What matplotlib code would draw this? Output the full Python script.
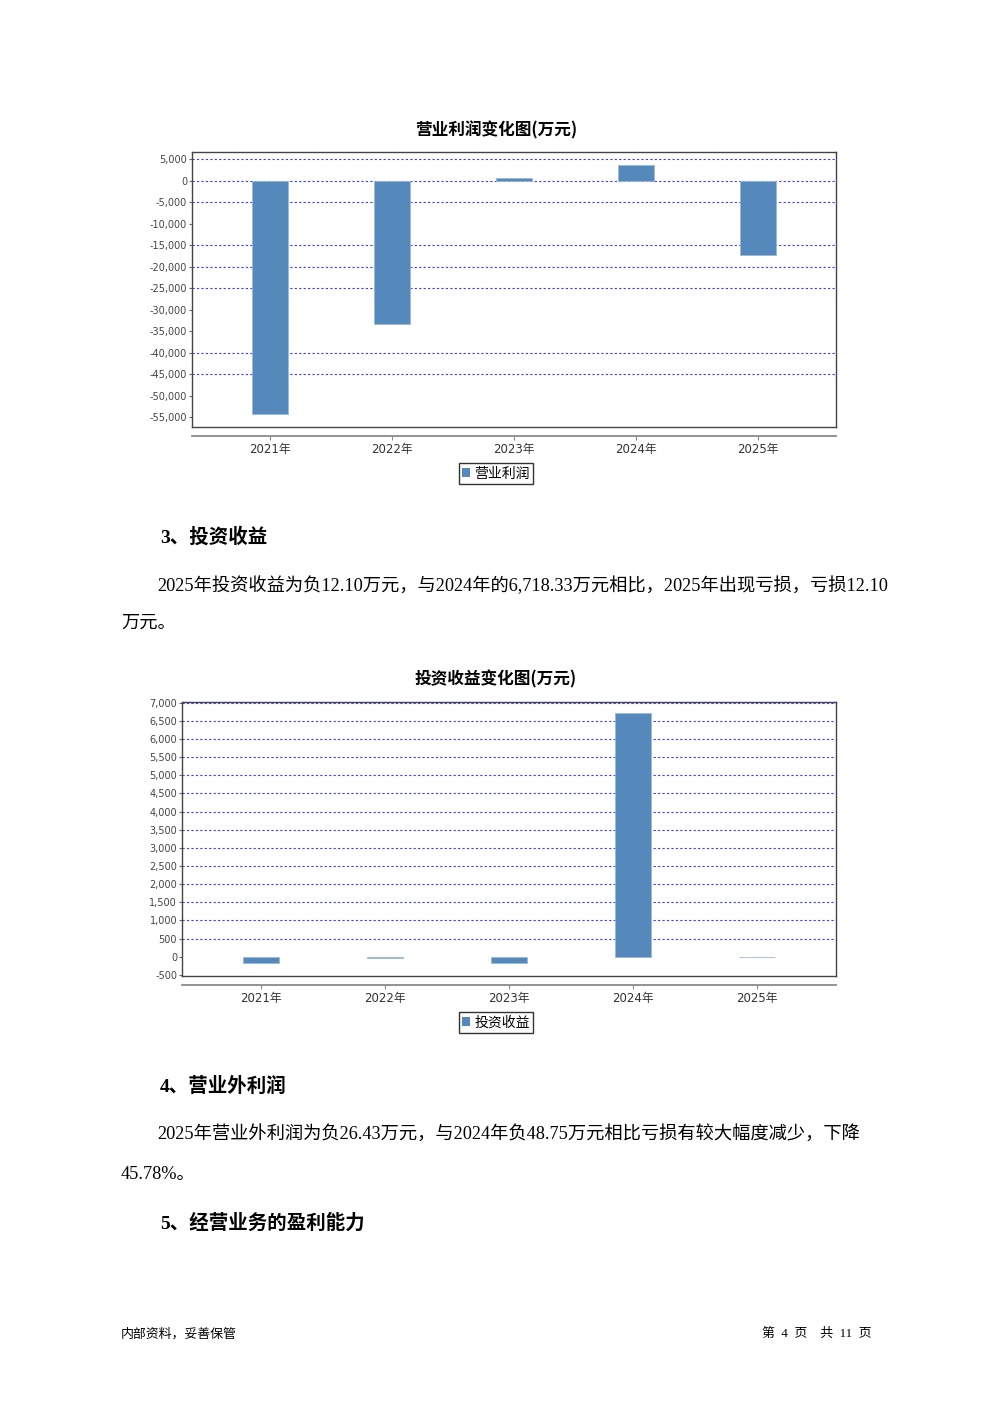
import matplotlib
matplotlib.use('Agg')
import matplotlib.pyplot as plt
from matplotlib.patches import Patch
from matplotlib.ticker import FuncFormatter

plt.rcParams['font.family'] = ['DejaVu Sans', 'Noto Sans CJK SC']

# data
years = ['2021年', '2022年', '2023年', '2024年', '2025年']
op_profit = [-54260, -33260, 630, 3720, -17370]
op_ticks = [5000, 0, -5000, -10000, -15000, -20000, -25000, -30000,
            -35000, -40000, -45000, -50000, -55000]
op_grid = [5000, 0, -5000, -15000, -20000, -25000, -40000, -45000]
inv_income = [-170, -30, -175, 6718.33, -12.10]
inv_ticks = list(range(-500, 7001, 500))
inv_grid = list(range(500, 7001, 500))

W, H = 992, 1403
BAR = '#5689bb'
GRID = '#3c3cff'
fig = plt.figure(figsize=(W / 100, H / 100), dpi=100)


def px(x, y):
    return x / W, 1 - y / H


def bar_chart(rect, values, ticks, grid, ylim, title, title_y, label, leg_y):
    l, t, r, b = rect
    ax = fig.add_axes([l / W, 1 - b / H, (r - l) / W, (b - t) / H])
    xs = list(range(len(years)))
    for g in grid:
        ax.axhline(g, color=GRID, lw=0.8, ls=(0, (2, 2)), zorder=1)
    ax.bar(xs, values, width=0.29, color=BAR, edgecolor='#9db9d8',
           linewidth=0.6, zorder=2)
    ax.set_xlim(-0.64, 4.64)
    ax.set_ylim(*ylim)
    ax.set_xticks(xs)
    ax.set_xticklabels(years)
    ax.set_yticks(ticks)
    ax.yaxis.set_major_formatter(FuncFormatter(lambda v, p: f'{v:,.0f}'))
    for s in ['top', 'left', 'right']:
        ax.spines[s].set_color('#444444')
        ax.spines[s].set_linewidth(1.0)
    ax.spines['bottom'].set_position(('outward', 6.5))
    ax.spines['bottom'].set_color('#8a8a8a')
    ax.spines['bottom'].set_linewidth(1.3)
    ax.plot([0, 1], [0, 0], transform=ax.transAxes, color='#444444',
            lw=1.0, clip_on=False, zorder=5)
    ax.tick_params(axis='x', length=3, color='#8a8a8a', labelsize=8.5,
                   labelcolor='#333333', pad=2)
    ax.tick_params(axis='y', length=2, color='#666666', labelsize=7,
                   labelcolor='#444444', pad=1.5)
    fig.text(*px(496, title_y), title, ha='center', va='center',
             fontsize=12, fontweight='bold', family='Noto Sans CJK SC')
    leg = ax.legend([Patch(facecolor=BAR)], [label], loc='center',
                    bbox_to_anchor=px(496, leg_y), bbox_transform=fig.transFigure,
                    fancybox=False, edgecolor='black',
                    handlelength=0.6, handleheight=0.6, handletextpad=0.3,
                    borderpad=0.25, borderaxespad=0,
                    prop={'family': 'Noto Sans CJK SC', 'size': 10})
    leg.get_frame().set_linewidth(1.0)
    return ax


bar_chart((192, 152, 836, 427), op_profit, op_ticks, op_grid, (-57300, 6630),
          '营业利润变化图(万元)', 130, '营业利润', 473.5)
bar_chart((182, 701.7, 836, 975.7), inv_income, inv_ticks, inv_grid, (-524, 7028),
          '投资收益变化图(万元)', 679, '投资收益', 1022.5)

body = ['Liberation Serif', 'Noto Sans CJK SC']


def txt(x, y, s, size=13.15, weight='normal', ha='left'):
    fig.text(*px(x, y), s, ha=ha, va='center', fontsize=size,
             fontweight=weight, family=body)


txt(160, 537, '3、投资收益', 14, 'bold')
txt(157, 586, '2025年投资收益为负12.10万元，与2024年的6,718.33万元相比，2025年出现亏损，亏损12.10')
txt(121, 623, '万元。')
txt(160, 1086, '4、营业外利润', 14, 'bold')
txt(157, 1135, '2025年营业外利润为负26.43万元，与2024年负48.75万元相比亏损有较大幅度减少，下降')
txt(121, 1174, '45.78%。')
txt(160, 1223, '5、经营业务的盈利能力', 14, 'bold')
txt(121, 1334, '内部资料，妥善保管', 9.3)
txt(871, 1334, '第  4  页    共  11  页', 9.3, ha='right')

fig.savefig('out.png', dpi=100)
